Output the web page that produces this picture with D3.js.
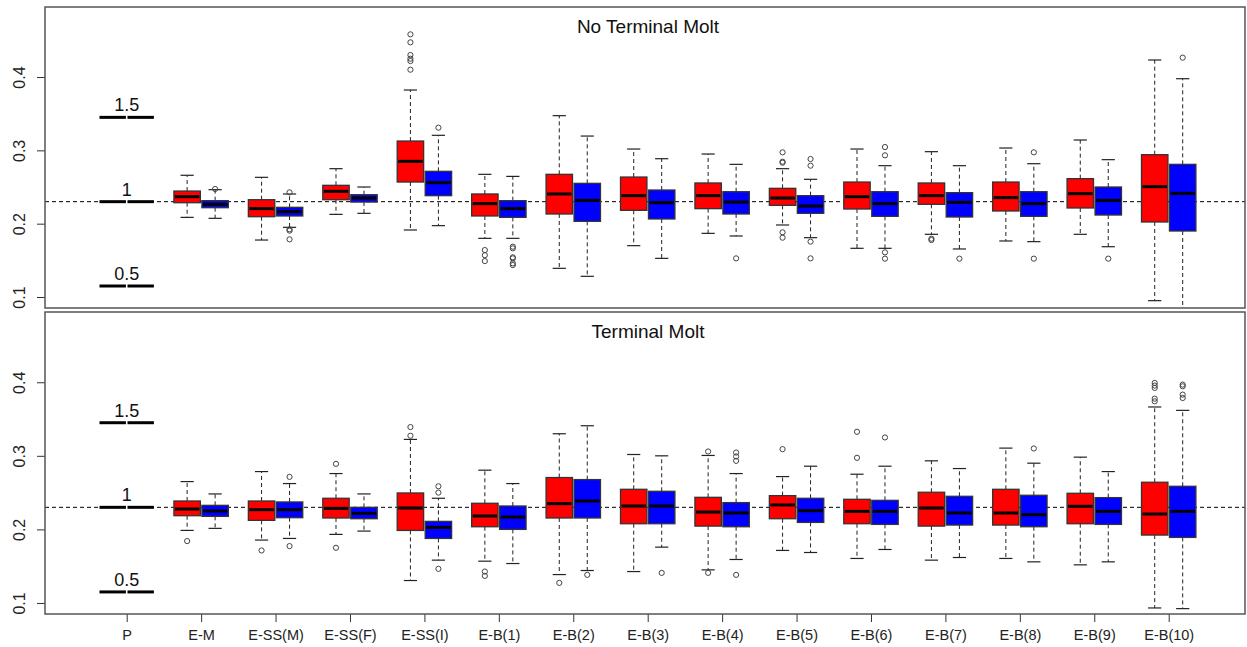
<!DOCTYPE html>
<html lang="en">
<head>
<meta charset="utf-8">
<title>Boxplots: Terminal Molt</title>
<script src="https://cdn.jsdelivr.net/npm/d3@7"></script>
<style>
  body { margin: 0; background: #fff; }
  svg { font-family: "Liberation Sans", Arial, sans-serif; }
  .frame { fill: none; stroke: #555; stroke-width: 1.5; }
  .refline { stroke: #000; stroke-width: 1; stroke-dasharray: 4,3; }
  .whisker { stroke: #222; stroke-width: 1; stroke-dasharray: 4,3; }
  .cap { stroke: #222; stroke-width: 1.2; }
  .box { stroke: #333; stroke-width: 1.3; }
  .median { stroke: #000; stroke-width: 3; }
  .outlier { fill: none; stroke: #444; stroke-width: 1; }
  .tick line { stroke: #333; }
</style>
</head>
<body>
<script>

// categories along the x axis (P is the reference column)
var categories = ["P", "E-M", "E-SS(M)", "E-SS(F)", "E-SS(I)", "E-B(1)", "E-B(2)",
                  "E-B(3)", "E-B(4)", "E-B(5)", "E-B(6)", "E-B(7)", "E-B(8)", "E-B(9)", "E-B(10)"];
var yTicks = [0.1, 0.2, 0.3, 0.4];
var baseValue = 0.23;
var refLabels = ["0.5", "1", "1.5"];
var refFactors = [0.5, 1, 1.5];

// [lower whisker, q1, median, q3, upper whisker] for E-M ... E-B(10)
var noTermRed = [
  [0.2086, 0.2286, 0.2368, 0.2445, 0.2660],
  [0.1777, 0.2095, 0.2205, 0.2327, 0.2632],
  [0.2127, 0.2327, 0.2441, 0.2523, 0.2750],
  [0.1914, 0.2568, 0.2850, 0.3127, 0.3823],
  [0.1800, 0.2105, 0.2273, 0.2405, 0.2673],
  [0.1391, 0.2132, 0.2405, 0.2673, 0.3473],
  [0.1700, 0.2182, 0.2382, 0.2636, 0.3018],
  [0.1868, 0.2205, 0.2382, 0.2555, 0.2950],
  [0.1982, 0.2250, 0.2350, 0.2482, 0.2750],
  [0.1664, 0.2200, 0.2368, 0.2568, 0.3018],
  [0.1855, 0.2264, 0.2382, 0.2555, 0.2982],
  [0.1764, 0.2173, 0.2355, 0.2568, 0.3032],
  [0.1855, 0.2214, 0.2409, 0.2614, 0.3141],
  [0.0950, 0.2023, 0.2505, 0.2941, 0.4232]
];
var noTermRedOut = [
  [], [], [],
  [0.4582, 0.4473, 0.4300, 0.4250, 0.4218, 0.4100],
  [0.1640, 0.1570, 0.1490],
  [], [], [],
  [0.2973, 0.2845, 0.2832, 0.1882, 0.1809],
  [],
  [0.1795, 0.1777],
  [], [], []
];
var noTermBlue = [
  [0.2073, 0.2218, 0.2264, 0.2314, 0.2464],
  [0.1950, 0.2105, 0.2164, 0.2223, 0.2405],
  [0.2141, 0.2295, 0.2350, 0.2395, 0.2500],
  [0.1973, 0.2382, 0.2559, 0.2714, 0.3205],
  [0.1800, 0.2086, 0.2205, 0.2314, 0.2645],
  [0.1282, 0.2032, 0.2318, 0.2550, 0.3195],
  [0.1527, 0.2064, 0.2286, 0.2459, 0.2886],
  [0.1832, 0.2132, 0.2295, 0.2436, 0.2809],
  [0.1809, 0.2141, 0.2241, 0.2382, 0.2605],
  [0.1664, 0.2100, 0.2273, 0.2436, 0.2791],
  [0.1655, 0.2091, 0.2291, 0.2423, 0.2791],
  [0.1755, 0.2100, 0.2273, 0.2436, 0.2818],
  [0.1686, 0.2118, 0.2318, 0.2500, 0.2873],
  [0.0800, 0.1900, 0.2414, 0.2809, 0.3977]
];
var noTermBlueOut = [
  [0.2473],
  [0.2427, 0.1923, 0.1905, 0.1786],
  [],
  [0.3309],
  [0.1686, 0.1664, 0.1541, 0.1527, 0.1459, 0.1436],
  [], [],
  [0.1527],
  [0.2882, 0.2791, 0.1755, 0.1527],
  [0.3045, 0.2932, 0.1609, 0.1523],
  [0.1523],
  [0.2973, 0.1523],
  [0.1523],
  [0.4264]
];

var termRed = [
  [0.1986, 0.2186, 0.2277, 0.2386, 0.2650],
  [0.1855, 0.2123, 0.2268, 0.2386, 0.2786],
  [0.1932, 0.2155, 0.2286, 0.2423, 0.2759],
  [0.1305, 0.1986, 0.2291, 0.2495, 0.3223],
  [0.1568, 0.2036, 0.2182, 0.2355, 0.2805],
  [0.1386, 0.2155, 0.2350, 0.2705, 0.3300],
  [0.1427, 0.2077, 0.2318, 0.2545, 0.3018],
  [0.1450, 0.2045, 0.2236, 0.2436, 0.3005],
  [0.1714, 0.2145, 0.2332, 0.2459, 0.2718],
  [0.1605, 0.2077, 0.2245, 0.2409, 0.2750],
  [0.1582, 0.2045, 0.2291, 0.2505, 0.2932],
  [0.1605, 0.2059, 0.2223, 0.2545, 0.3105],
  [0.1518, 0.2077, 0.2314, 0.2491, 0.2982],
  [0.0932, 0.1923, 0.2209, 0.2641, 0.3664]
];
var termRedOut = [
  [0.1841],
  [0.1714],
  [0.2891, 0.1750],
  [0.3391, 0.3273],
  [0.1427, 0.1368],
  [0.1273],
  [],
  [0.3059, 0.1409],
  [0.3091],
  [0.3327, 0.2973],
  [], [], [],
  [0.3991, 0.3955, 0.3923, 0.3777, 0.3741]
];
var termBlue = [
  [0.2014, 0.2177, 0.2250, 0.2327, 0.2482],
  [0.1877, 0.2159, 0.2268, 0.2373, 0.2623],
  [0.1977, 0.2145, 0.2218, 0.2300, 0.2482],
  [0.1582, 0.1877, 0.2027, 0.2109, 0.2423],
  [0.1536, 0.2000, 0.2168, 0.2318, 0.2623],
  [0.1441, 0.2155, 0.2386, 0.2677, 0.3409],
  [0.1759, 0.2077, 0.2318, 0.2518, 0.3000],
  [0.1591, 0.2036, 0.2223, 0.2364, 0.2759],
  [0.1686, 0.2095, 0.2255, 0.2423, 0.2859],
  [0.1727, 0.2068, 0.2245, 0.2395, 0.2859],
  [0.1618, 0.2059, 0.2223, 0.2450, 0.2827],
  [0.1559, 0.2036, 0.2200, 0.2464, 0.2900],
  [0.1559, 0.2068, 0.2245, 0.2432, 0.2786],
  [0.0923, 0.1891, 0.2245, 0.2586, 0.3618]
];
var termBlueOut = [
  [],
  [0.2714, 0.1773],
  [],
  [0.2586, 0.2500, 0.1464],
  [],
  [0.1382],
  [0.1409],
  [0.3045, 0.2991, 0.2932, 0.1382],
  [],
  [0.3250],
  [],
  [0.3100],
  [],
  [0.3968, 0.3945, 0.3832, 0.3786]
];

var W = 1247, H = 647;
var left = 45, right = 1245;

var svg = d3.select("body").append("svg")
    .attr("width", W)
    .attr("height", H);

var xScale = d3.scalePoint()
    .domain(categories)
    .range([126.7, 1168.7]);

var step = xScale.step();
var offset = step * 0.188;
var boxW = step * 0.355;

function drawPanel(top, bottom, title, red, redOut, blue, blueOut, clipId, showX) {
  var yScale = d3.scaleLinear()
      .domain([0.085, 0.4955])
      .range([bottom, top]);

  var g = svg.append("g");

  g.append("clipPath").attr("id", clipId)
    .append("rect")
    .attr("x", left).attr("y", top)
    .attr("width", right - left).attr("height", bottom - top);

  var plot = g.append("g").attr("clip-path", "url(#" + clipId + ")");

  // dashed reference line at the base value
  plot.append("line")
    .attr("class", "refline")
    .attr("x1", left).attr("x2", right)
    .attr("y1", yScale(baseValue)).attr("y2", yScale(baseValue));

  // P column: reference levels
  refFactors.forEach(function(f, i) {
    var cx = xScale("P");
    var yv = yScale(baseValue * f);
    [-1, 1].forEach(function(s) {
      plot.append("line")
        .attr("x1", cx + s * offset - boxW / 2)
        .attr("x2", cx + s * offset + boxW / 2)
        .attr("y1", yv).attr("y2", yv)
        .attr("stroke", "#000")
        .attr("stroke-width", 3);
    });
    g.append("text")
      .attr("x", cx)
      .attr("y", yv - 6)
      .attr("text-anchor", "middle")
      .attr("font-size", 18)
      .attr("fill", "#111")
      .text(refLabels[i]);
  });

  function drawBoxes(stats, outs, color, dir) {
    stats.forEach(function(s, i) {
      var cx = xScale(categories[i + 1]) + dir * offset;
      var bx = plot.append("g");
      // whiskers
      bx.append("line").attr("class", "whisker")
        .attr("x1", cx).attr("x2", cx)
        .attr("y1", yScale(s[3])).attr("y2", yScale(s[4]));
      bx.append("line").attr("class", "whisker")
        .attr("x1", cx).attr("x2", cx)
        .attr("y1", yScale(s[1])).attr("y2", yScale(s[0]));
      // caps
      [s[0], s[4]].forEach(function(v) {
        bx.append("line").attr("class", "cap")
          .attr("x1", cx - boxW / 4).attr("x2", cx + boxW / 4)
          .attr("y1", yScale(v)).attr("y2", yScale(v));
      });
      // box
      bx.append("rect").attr("class", "box")
        .attr("x", cx - boxW / 2)
        .attr("y", yScale(s[3]))
        .attr("width", boxW)
        .attr("height", yScale(s[1]) - yScale(s[3]))
        .attr("fill", color);
      // median
      bx.append("line").attr("class", "median")
        .attr("x1", cx - boxW / 2 + 1).attr("x2", cx + boxW / 2 - 1)
        .attr("y1", yScale(s[2])).attr("y2", yScale(s[2]));
      // outliers
      bx.selectAll("circle")
        .data(outs[i])
        .enter()
        .append("circle")
        .attr("class", "outlier")
        .attr("cx", cx)
        .attr("cy", function(d) { return yScale(d); })
        .attr("r", 2.6);
    });
  }

  drawBoxes(red, redOut, "#ff0000", -1);
  drawBoxes(blue, blueOut, "#0000ff", 1);

  // y axis
  var yAxis = d3.axisLeft(yScale)
      .tickValues(yTicks)
      .tickSize(8)
      .tickFormat(d3.format(".1f"));
  var ya = g.append("g")
      .attr("transform", "translate(" + left + ",0)")
      .call(yAxis);
  ya.select(".domain").remove();
  ya.selectAll(".tick text")
    .attr("font-size", 16)
    .attr("fill", "#222")
    .attr("text-anchor", "middle")
    .attr("x", 0)
    .attr("y", 0)
    .attr("dy", 0)
    .attr("transform", "translate(-20,0) rotate(-90)");

  if (showX) {
    var xAxis = d3.axisBottom(xScale).tickSize(8).tickPadding(8);
    var xa = g.append("g")
        .attr("transform", "translate(0," + bottom + ")")
        .call(xAxis);
    xa.select(".domain").remove();
    xa.selectAll("text").attr("font-size", 14.5).attr("fill", "#222");
  }

  // frame
  g.append("rect").attr("class", "frame")
    .attr("x", left).attr("y", top)
    .attr("width", right - left).attr("height", bottom - top);

  // title
  g.append("text")
    .attr("x", 648)
    .attr("y", top + 26)
    .attr("text-anchor", "middle")
    .attr("font-size", 19)
    .attr("fill", "#111")
    .text(title);
}

drawPanel(7, 308, "No Terminal Molt", noTermRed, noTermRedOut, noTermBlue, noTermBlueOut, "clipTop", false);
drawPanel(312, 614, "Terminal Molt", termRed, termRedOut, termBlue, termBlueOut, "clipBottom", true);

</script>
</body>
</html>
